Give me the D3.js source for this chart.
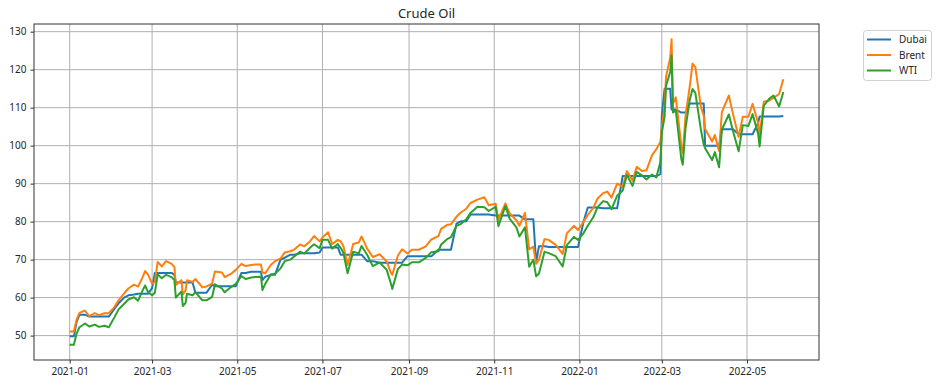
<!DOCTYPE html>
<html>
<head>
<meta charset="utf-8">
<script src="https://cdn.jsdelivr.net/npm/d3@7"></script>
<style>
body { margin: 0; background: #fff; }
text { font-family: "Noto Sans", sans-serif; }
</style>
</head>
<body>
<div id="chart"></div>
<script>
// sampled prices, one row per month
var dates = [
    "2021-01-01","2021-01-04","2021-01-06","2021-01-08","2021-01-12","2021-01-15","2021-01-19","2021-01-22","2021-01-26","2021-01-29",
    "2021-02-02","2021-02-05","2021-02-09","2021-02-12","2021-02-16","2021-02-19","2021-02-22","2021-02-24","2021-02-26",
    "2021-03-01","2021-03-03","2021-03-05","2021-03-08","2021-03-11","2021-03-15","2021-03-17","2021-03-18","2021-03-22","2021-03-23","2021-03-25","2021-03-26","2021-03-30",
    "2021-04-01","2021-04-06","2021-04-09","2021-04-13","2021-04-15","2021-04-20","2021-04-22","2021-04-27","2021-04-30",
    "2021-05-04","2021-05-07","2021-05-11","2021-05-14","2021-05-18","2021-05-19","2021-05-21","2021-05-25","2021-05-28",
    "2021-06-01","2021-06-04","2021-06-08","2021-06-11","2021-06-15","2021-06-18","2021-06-22","2021-06-25","2021-06-29",
    "2021-07-01","2021-07-05","2021-07-08","2021-07-12","2021-07-14","2021-07-16","2021-07-19","2021-07-23","2021-07-27","2021-07-29",
    "2021-08-02","2021-08-06","2021-08-11","2021-08-16","2021-08-19","2021-08-20","2021-08-24","2021-08-27","2021-08-31",
    "2021-09-03","2021-09-08","2021-09-13","2021-09-17","2021-09-22","2021-09-24","2021-09-28",
    "2021-10-01","2021-10-05","2021-10-08","2021-10-12","2021-10-15","2021-10-20","2021-10-25","2021-10-28",
    "2021-11-02","2021-11-04","2021-11-09","2021-11-12","2021-11-17","2021-11-19","2021-11-23","2021-11-26","2021-11-29",
    "2021-12-01","2021-12-03","2021-12-07","2021-12-10","2021-12-15","2021-12-20","2021-12-23","2021-12-28","2021-12-31",
    "2022-01-04","2022-01-07","2022-01-11","2022-01-14","2022-01-18","2022-01-21","2022-01-24","2022-01-28",
    "2022-02-01","2022-02-04","2022-02-08","2022-02-11","2022-02-15","2022-02-18","2022-02-22","2022-02-25","2022-02-28",
    "2022-03-01","2022-03-03","2022-03-04","2022-03-07","2022-03-08","2022-03-09","2022-03-11","2022-03-15","2022-03-16","2022-03-18","2022-03-21","2022-03-23","2022-03-25","2022-03-29","2022-03-31",
    "2022-04-01","2022-04-06","2022-04-08","2022-04-11","2022-04-13","2022-04-18","2022-04-21","2022-04-25","2022-04-28",
    "2022-05-02","2022-05-05","2022-05-09","2022-05-10","2022-05-13","2022-05-17","2022-05-20","2022-05-24","2022-05-27"
];

var dubai = [
    49.8, 49.8, 53.6, 55.5, 55.5, 55.0, 55.0, 55.0, 55.0, 55.0,
    57.0, 58.5, 60.0, 60.6, 60.8, 61.0, 61.0, 61.0, 61.0,
    62.5, 66.5, 66.5, 66.5, 66.5, 66.5, 66.0, 64.0, 64.0, 64.0, 64.0, 64.0, 64.0,
    61.3, 61.3, 61.3, 63.4, 63.0, 63.0, 63.0, 63.0, 63.0,
    66.5, 66.5, 66.8, 66.8, 66.8, 64.6, 65.5, 66.0, 66.0,
    70.0, 70.5, 71.3, 71.3, 71.7, 71.7, 71.7, 71.7, 71.9,
    73.2, 73.2, 73.2, 73.2, 71.3, 71.3, 71.3, 71.3, 71.3, 71.3,
    69.6, 69.6, 69.2, 69.2, 69.2, 69.2, 69.2, 69.2, 70.9,
    70.9, 70.9, 70.9, 70.9, 72.6, 72.6, 72.6,
    72.6, 79.5, 80.1, 80.1, 81.9, 81.9, 81.9, 81.9,
    81.6, 81.6, 81.6, 81.6, 81.6, 81.6, 80.6, 80.6, 80.6,
    69.2, 73.5, 73.5, 73.3, 73.3, 73.3, 73.3, 73.3, 73.3,
    80.1, 83.7, 83.7, 83.7, 83.5, 83.5, 83.5, 83.5,
    92.0, 92.0, 92.0, 92.0, 92.0, 92.0, 92.0, 92.0, 92.5,
    108.0, 115.0, 115.0, 115.0, 109.5, 109.5, 109.5, 108.7, 108.7, 108.7, 111.1, 111.1, 111.1, 111.1, 111.1,
    100.0, 100.0, 100.0, 100.0, 104.3, 104.3, 104.3, 103.0, 103.0,
    103.0, 103.0, 106.0, 107.7, 107.7, 107.7, 107.7, 107.7, 107.8
];

var brent = [
    51.1, 51.1, 54.3, 56.0, 56.6, 55.1, 55.9, 55.4, 55.9, 55.9,
    57.5, 59.3, 61.1, 62.4, 63.4, 62.9, 65.2, 67.0, 66.1,
    63.7, 64.1, 69.4, 68.2, 69.6, 68.9, 68.0, 63.3, 64.6, 60.8, 61.9, 64.6, 64.1,
    64.9, 62.7, 62.95, 63.7, 66.9, 66.6, 65.4, 66.4, 67.3,
    68.9, 68.3, 68.6, 68.7, 68.7, 66.6, 66.4, 68.6, 69.6,
    70.3, 71.9, 72.2, 72.7, 74.0, 73.5, 74.8, 76.2, 74.8,
    75.8, 77.2, 74.1, 75.2, 74.8, 73.6, 68.6, 74.1, 74.5, 76.1,
    72.9, 70.7, 71.4, 69.5, 66.5, 66.0, 71.1, 72.7, 71.6,
    72.6, 72.6, 73.5, 75.3, 76.2, 78.1, 79.1,
    79.3, 81.3, 82.4, 83.4, 84.9, 85.8, 86.4, 84.3,
    84.7, 80.5, 84.8, 82.2, 80.3, 78.9, 82.3, 72.7, 73.4,
    68.9, 69.9, 75.4, 75.2, 73.9, 71.5, 76.9, 78.9, 77.8,
    80.0, 81.75, 83.7, 86.1, 87.5, 87.9, 86.3, 90.0,
    89.2, 93.3, 90.8, 94.4, 93.3, 93.5, 97.5, 99.0, 101.0,
    105.0, 110.5, 118.1, 123.2, 128.0, 111.1, 112.7, 99.9, 98.0, 107.9, 115.6, 121.6, 120.65, 110.2, 107.9,
    104.4, 101.1, 102.8, 98.5, 108.8, 113.2, 108.3, 102.3, 107.6,
    107.6, 111.0, 105.9, 102.5, 111.55, 111.9, 112.55, 113.6, 117.5
];

var wti = [
    47.6, 47.6, 50.6, 52.2, 53.2, 52.4, 52.9, 52.3, 52.6, 52.2,
    54.8, 56.9, 58.4, 59.5, 60.1, 59.2, 61.7, 63.2, 61.5,
    60.6, 61.3, 66.1, 65.1, 66.0, 65.4, 64.6, 60.0, 61.6, 57.8, 58.6, 61.0, 60.6,
    61.45, 59.3, 59.3, 60.2, 63.5, 62.4, 61.4, 62.9, 63.6,
    65.7, 64.9, 65.3, 65.4, 65.5, 62.0, 63.6, 66.1, 66.3,
    67.7, 69.6, 70.0, 70.9, 72.1, 71.6, 73.1, 74.05, 73.0,
    75.2, 75.2, 72.9, 74.1, 73.1, 71.8, 66.4, 72.1, 71.65, 73.6,
    71.3, 68.3, 69.25, 67.3, 63.7, 62.3, 67.5, 68.7, 68.5,
    69.3, 69.3, 70.45, 71.97, 72.2, 73.98, 75.3,
    75.9, 78.9, 79.35, 80.6, 82.3, 83.9, 83.8, 82.8,
    83.9, 78.8, 84.15, 80.8, 78.4, 76.1, 78.5, 68.15, 69.95,
    65.6, 66.3, 72.05, 71.7, 70.9, 68.2, 73.8, 75.98, 75.2,
    76.99, 78.9, 81.2, 83.8, 85.4, 85.1, 83.3, 86.8,
    88.2, 92.3, 89.4, 93.1, 92.1, 91.1, 92.4, 91.6, 95.7,
    103.4, 107.7, 115.7, 119.4, 123.7, 108.7, 109.3, 96.4, 95.0, 104.7, 112.1, 114.9, 113.9, 104.2, 100.3,
    99.3, 96.2, 98.3, 94.3, 104.25, 108.2, 103.8, 98.5, 105.4,
    105.2, 108.3, 103.1, 99.8, 110.5, 112.4, 113.2, 110.3, 114.1
];

var seriesNames = ["Dubai", "Brent", "WTI"];
var seriesColors = ["#1f77b4", "#ff7f0e", "#2ca02c"];
var yTicks = [50, 60, 70, 80, 90, 100, 110, 120, 130];

var margin = {top: 24, right: 120, bottom: 26, left: 34},
    width = 939 - margin.left - margin.right,
    height = 386 - margin.top - margin.bottom;

var parse = d3.timeParse("%Y-%m-%d");
var days = dates.map(parse);
var allSeries = [dubai, brent, wti];

var svg = d3.select("#chart")
    .append("svg")
    .attr("width", width + margin.left + margin.right)
    .attr("height", height + margin.top + margin.bottom)
    .append("g")
    .attr("transform", "translate(" + margin.left + "," + margin.top + ")");

// 5% padding on both axes like matplotlib
var xExt = d3.extent(days);
var xPad = (xExt[1] - xExt[0]) * 0.05;
var x = d3.scaleTime()
    .domain([new Date(+xExt[0] - xPad), new Date(+xExt[1] + xPad)])
    .range([0, width]);

var yMin = d3.min(allSeries, function(s) { return d3.min(s); });
var yMax = d3.max(allSeries, function(s) { return d3.max(s); });
var yPad = (yMax - yMin) * 0.05;
var y = d3.scaleLinear()
    .domain([yMin - yPad, yMax + yPad])
    .range([height, 0]);

var xTicks = x.ticks(d3.timeMonth.every(2));

// grid
svg.append("g")
    .selectAll("line")
    .data(xTicks)
    .enter()
    .append("line")
    .attr("x1", function(d) { return x(d); })
    .attr("x2", function(d) { return x(d); })
    .attr("y1", 0)
    .attr("y2", height)
    .style("stroke", "#b0b0b0")
    .style("stroke-width", 1);

svg.append("g")
    .selectAll("line")
    .data(yTicks)
    .enter()
    .append("line")
    .attr("x1", 0)
    .attr("x2", width)
    .attr("y1", function(d) { return y(d); })
    .attr("y2", function(d) { return y(d); })
    .style("stroke", "#b0b0b0")
    .style("stroke-width", 1);

// axes
var gx = svg.append("g")
    .attr("transform", "translate(0," + height + ")")
    .call(d3.axisBottom(x).tickValues(xTicks).tickFormat(d3.timeFormat("%Y-%m")).tickSize(3.5).tickPadding(4));
var gy = svg.append("g")
    .call(d3.axisLeft(y).tickValues(yTicks).tickSize(3.5).tickPadding(4));

[gx, gy].forEach(function(g) {
    g.select(".domain").remove();
    g.selectAll("line").style("stroke", "#333");
    g.selectAll("text").style("font-size", "10px").style("fill", "#262626")
        .style("font-family", "'Noto Sans', sans-serif");
});

// lines
var line = d3.line()
    .x(function(d, i) { return x(days[i]); })
    .y(function(d) { return y(d); });

allSeries.forEach(function(s, k) {
    svg.append("path")
        .datum(s)
        .attr("d", line)
        .style("fill", "none")
        .style("stroke", seriesColors[k])
        .style("stroke-width", 2)
        .style("stroke-linejoin", "round");
});

// frame
svg.append("rect")
    .attr("x", 0)
    .attr("y", 0)
    .attr("width", width)
    .attr("height", height)
    .style("fill", "none")
    .style("stroke", "#333")
    .style("stroke-width", 1);

// title
svg.append("text")
    .attr("x", width / 2)
    .attr("y", -6)
    .attr("text-anchor", "middle")
    .style("font-size", "13px")
    .style("fill", "#262626")
    .text("Crude Oil");

// legend, outside to the right
var legend = svg.append("g")
    .attr("transform", "translate(" + (width + 44.5) + ",6.5)");

legend.append("rect")
    .attr("width", 68)
    .attr("height", 50)
    .attr("rx", 3)
    .style("fill", "#fff")
    .style("stroke", "#d0d0d0");

seriesNames.forEach(function(name, k) {
    var ly = 9 + k * 15.5;
    legend.append("line")
        .attr("x1", 3.5)
        .attr("x2", 27.5)
        .attr("y1", ly)
        .attr("y2", ly)
        .style("stroke", seriesColors[k])
        .style("stroke-width", 2);
    legend.append("text")
        .attr("x", 35.5)
        .attr("y", ly)
        .attr("dy", "0.35em")
        .style("font-size", "10px")
        .style("fill", "#262626")
        .text(name);
});
</script>
</body>
</html>
